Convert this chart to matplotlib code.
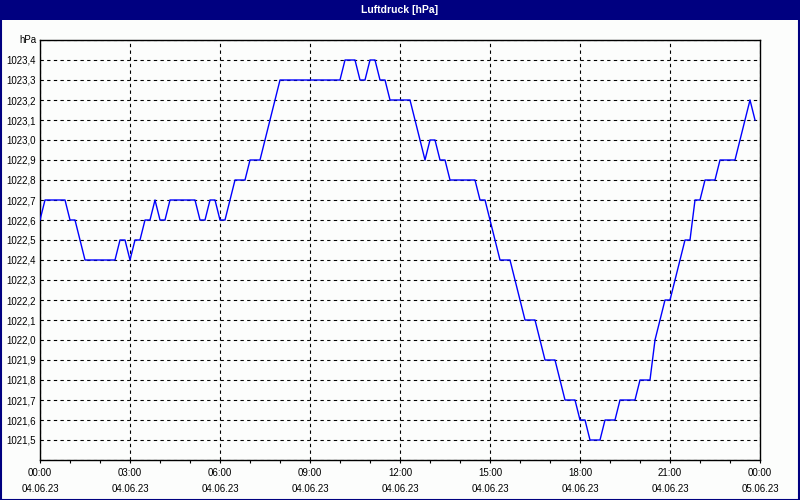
import matplotlib
matplotlib.use("Agg")
import matplotlib.pyplot as plt
import matplotlib.dates as mdates
from matplotlib.patches import Rectangle
from matplotlib.ticker import FuncFormatter, MultipleLocator
import pandas as pd

plt.rcParams["font.family"] = ["Liberation Sans", "DejaVu Sans"]

title = "Luftdruck [hPa]"
unit = "hPa"
start = "2023-06-04 00:00"
end = "2023-06-05 00:00"
pressure = [
    1022.6, 1022.7, 1022.7, 1022.7, 1022.7, 1022.7, 1022.6, 1022.6, 1022.5, 1022.4,
    1022.4, 1022.4, 1022.4, 1022.4, 1022.4, 1022.4, 1022.5, 1022.5, 1022.4, 1022.5,
    1022.5, 1022.6, 1022.6, 1022.7, 1022.6, 1022.6, 1022.7, 1022.7, 1022.7, 1022.7,
    1022.7, 1022.7, 1022.6, 1022.6, 1022.7, 1022.7, 1022.6, 1022.6, 1022.7, 1022.8,
    1022.8, 1022.8, 1022.9, 1022.9, 1022.9, 1023.0, 1023.1, 1023.2, 1023.3, 1023.3,
    1023.3, 1023.3, 1023.3, 1023.3, 1023.3, 1023.3, 1023.3, 1023.3, 1023.3, 1023.3,
    1023.3, 1023.4, 1023.4, 1023.4, 1023.3, 1023.3, 1023.4, 1023.4, 1023.3, 1023.3,
    1023.2, 1023.2, 1023.2, 1023.2, 1023.2, 1023.1, 1023.0, 1022.9, 1023.0, 1023.0,
    1022.9, 1022.9, 1022.8, 1022.8, 1022.8, 1022.8, 1022.8, 1022.8, 1022.7, 1022.7,
    1022.6, 1022.5, 1022.4, 1022.4, 1022.4, 1022.3, 1022.2, 1022.1, 1022.1, 1022.1,
    1022.0, 1021.9, 1021.9, 1021.9, 1021.8, 1021.7, 1021.7, 1021.7, 1021.6, 1021.6,
    1021.5, 1021.5, 1021.5, 1021.6, 1021.6, 1021.6, 1021.7, 1021.7, 1021.7, 1021.7,
    1021.8, 1021.8, 1021.8, 1022.0, 1022.1, 1022.2, 1022.2, 1022.3, 1022.4, 1022.5,
    1022.5, 1022.7, 1022.7, 1022.8, 1022.8, 1022.8, 1022.9, 1022.9, 1022.9, 1022.9,
    1023.0, 1023.1, 1023.2, 1023.1,
]
times = pd.date_range(start, periods=len(pressure), freq="10min")
y_min, y_max = 1021.4, 1023.5

W, H = 800, 500
fig = plt.figure(figsize=(8, 5), dpi=100)
fig.patch.set_facecolor("#fcfdfc")

# title bar and frame
fig.patches.append(Rectangle((0, 1 - 20 / H), 1, 20 / H, transform=fig.transFigure,
                             facecolor="#000080", edgecolor="none", zorder=0))
fig.patches.append(Rectangle((0.5 / W, 0.5 / H), 1 - 2 / W, 1 - 2 / H, transform=fig.transFigure,
                             facecolor="none", edgecolor="#000080", linewidth=1.5, zorder=1))
fig.text(0.5, 1 - 10 / H, title, color="white", fontsize=7.5, fontweight="bold",
         ha="center", va="center")

ax = fig.add_axes([40 / W, 40 / H, 720 / W, 420 / H])
ax.set_facecolor("#fcfdfc")
ax.plot(times, pressure, color="#0000ff", linewidth=1.0, zorder=3)

ax.set_xlim(pd.Timestamp(start), pd.Timestamp(end))
ax.set_ylim(y_min, y_max)

ax.xaxis.set_major_locator(mdates.HourLocator(byhour=range(0, 24, 3)))
ax.xaxis.set_minor_locator(mdates.HourLocator())
ax.xaxis.set_major_formatter(mdates.DateFormatter("%H:%M\n%d.%m.%y"))
ax.yaxis.set_major_locator(MultipleLocator(0.1))
ax.yaxis.set_major_formatter(FuncFormatter(
    lambda v, p: "" if (v < 1021.45 or v > 1023.45) else f"{v:.1f}".replace(".", ",")))

ax.tick_params(axis="x", which="major", length=2.5, width=0.8, labelsize=7, pad=3.5)
ax.tick_params(axis="x", which="minor", length=2.5, width=0.8)
ax.tick_params(axis="y", length=0, labelsize=7, pad=3)
for lab in ax.get_xticklabels():
    lab.set_linespacing(1.65)

ax.grid(True, which="major", color="black", linestyle=(0, (3, 3)), linewidth=0.8)
for s in ax.spines.values():
    s.set_color("black")
    s.set_linewidth(1.0)

ax.text(-4 / 720, 1.0, unit, transform=ax.transAxes, ha="right", va="center", fontsize=7)

fig.savefig("out.png", dpi=100, facecolor=fig.get_facecolor())
